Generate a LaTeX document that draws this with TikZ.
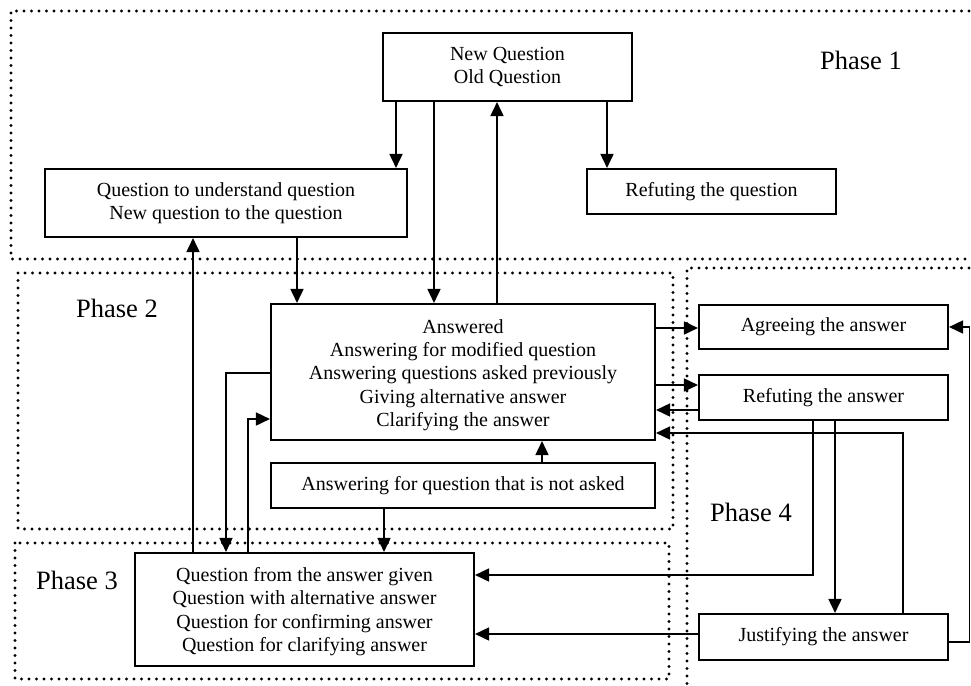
\documentclass[tikz,border=0pt]{standalone}
\usepackage{fontspec}
\setmainfont{Liberation Serif}
\usetikzlibrary{arrows.meta}
\newcommand\boxfont{\fontsize{20}{23.3}\selectfont}
\newcommand\phasefont{\fontsize{26.5}{30}\selectfont}
\tikzset{
  box/.style={draw, line width=2.1pt, inner sep=0pt, align=center, font=\boxfont},
  arr/.style={line width=1.7pt, -{Triangle[length=14pt,width=13pt]}},
  frame/.style={line width=3.3pt, dash pattern=on 0pt off 7.5pt, line cap=round},
  phase/.style={font=\phasefont, inner sep=0pt}
}
\begin{document}
\begin{tikzpicture}[x=1pt,y=-1pt]
\useasboundingbox (0,0) rectangle (971,685);
% frames
\draw[frame] (969,11) -- (11,11) -- (11,259) -- (969,259);
\draw[frame] (18,273) rectangle (673,529);
\draw[frame] (15,543) rectangle (669,679);
\draw[frame] (969,268) -- (687,268) -- (687,685);
% phase labels
\node[phase] (p1) at (861,60) {Phase 1};
\node[phase] (p2) at (117,308) {Phase 2};
\node[phase] (p3) at (77,580) {Phase 3};
\node[phase] (p4) at (751,512) {Phase 4};
% boxes
\node[box, minimum width=249, minimum height=68] (NewQ) at (507.5,67) {New Question\\Old Question};
\node[box, minimum width=362, minimum height=68] (QU) at (226,203) {Question to understand question\\New question to the question};
\node[box, minimum width=249, minimum height=45] (RefQ) at (711.5,191.5) {Refuting the question};
\node[box, minimum width=384, minimum height=136] (Ans) at (463,372) {};
\node[align=center, font=\boxfont, inner sep=0pt] (AnsText) at (463,375) {Answered\\Answering for modified question\\Answering questions asked previously\\Giving alternative answer\\Clarifying the answer};
\node[box, minimum width=384, minimum height=45] (NotAsked) at (463,485.5) {Answering for question that is not asked};
\node[box, minimum width=339, minimum height=113] (QFrom) at (304.5,609.5) {};
\node[align=center, font=\boxfont, inner sep=0pt] (QFromText) at (304.5,611.5) {Question from the answer given\\Question with alternative answer\\Question for confirming answer\\Question for clarifying answer};
\node[box, minimum width=249, minimum height=44] (Agree) at (823.5,327) {Agreeing the answer};
\node[box, minimum width=249, minimum height=45] (RefA) at (823.5,397.5) {Refuting the answer};
\node[box, minimum width=249, minimum height=46] (Just) at (823.5,637) {Justifying the answer};
% helper coordinates
\coordinate (xa) at (396,0);
\coordinate (xb) at (434,0);
\coordinate (xc) at (497,0);
\coordinate (xd) at (607,0);
\coordinate (xe) at (297,0);
\coordinate (xf) at (193,0);
\coordinate (xg) at (226,0);
\coordinate (xh) at (248,0);
\coordinate (xi) at (542,0);
\coordinate (xj) at (384,0);
\coordinate (xk) at (903,0);
\coordinate (xl) at (813,0);
\coordinate (xm) at (835,0);
\coordinate (xn) at (969.5,0);
\coordinate (ya) at (0,373);
\coordinate (yb) at (0,419);
\coordinate (yc) at (0,328);
\coordinate (yd) at (0,385);
\coordinate (ye) at (0,410);
\coordinate (yf) at (0,433);
\coordinate (yg) at (0,575);
\coordinate (yh) at (0,642);
\coordinate (yi) at (0,634);
% connectors
\draw[arr] (NewQ.south -| xa) -- (QU.north -| xa);
\draw[arr] (NewQ.south -| xb) -- (Ans.north -| xb);
\draw[arr] (Ans.north -| xc) -- (NewQ.south -| xc);
\draw[arr] (NewQ.south -| xd) -- (RefQ.north -| xd);
\draw[arr] (QU.south -| xe) -- (Ans.north -| xe);
\draw[arr] (QFrom.north -| xf) -- (QU.south -| xf);
\draw[arr] (Ans.west |- ya) -| (QFrom.north -| xg);
\draw[arr] (QFrom.north -| xh) |- (Ans.west |- yb);
\draw[arr] (NotAsked.north -| xi) -- (Ans.south -| xi);
\draw[arr] (NotAsked.south -| xj) -- (QFrom.north -| xj);
\draw[arr] (Ans.east |- yc) -- (Agree.west |- yc);
\draw[arr] (Ans.east |- yd) -- (RefA.west |- yd);
\draw[arr] (RefA.west |- ye) -- (Ans.east |- ye);
\draw[arr] (Just.north -| xk) |- (Ans.east |- yf);
\draw[arr] (RefA.south -| xl) |- (QFrom.east |- yg);
\draw[arr] (RefA.south -| xm) -- (Just.north -| xm);
\draw[arr] (Just.east |- yh) -| (xn |- Agree.east) -- (Agree.east);
\draw[arr] (Just.west |- yi) -- (QFrom.east |- yi);
\end{tikzpicture}
\end{document}
